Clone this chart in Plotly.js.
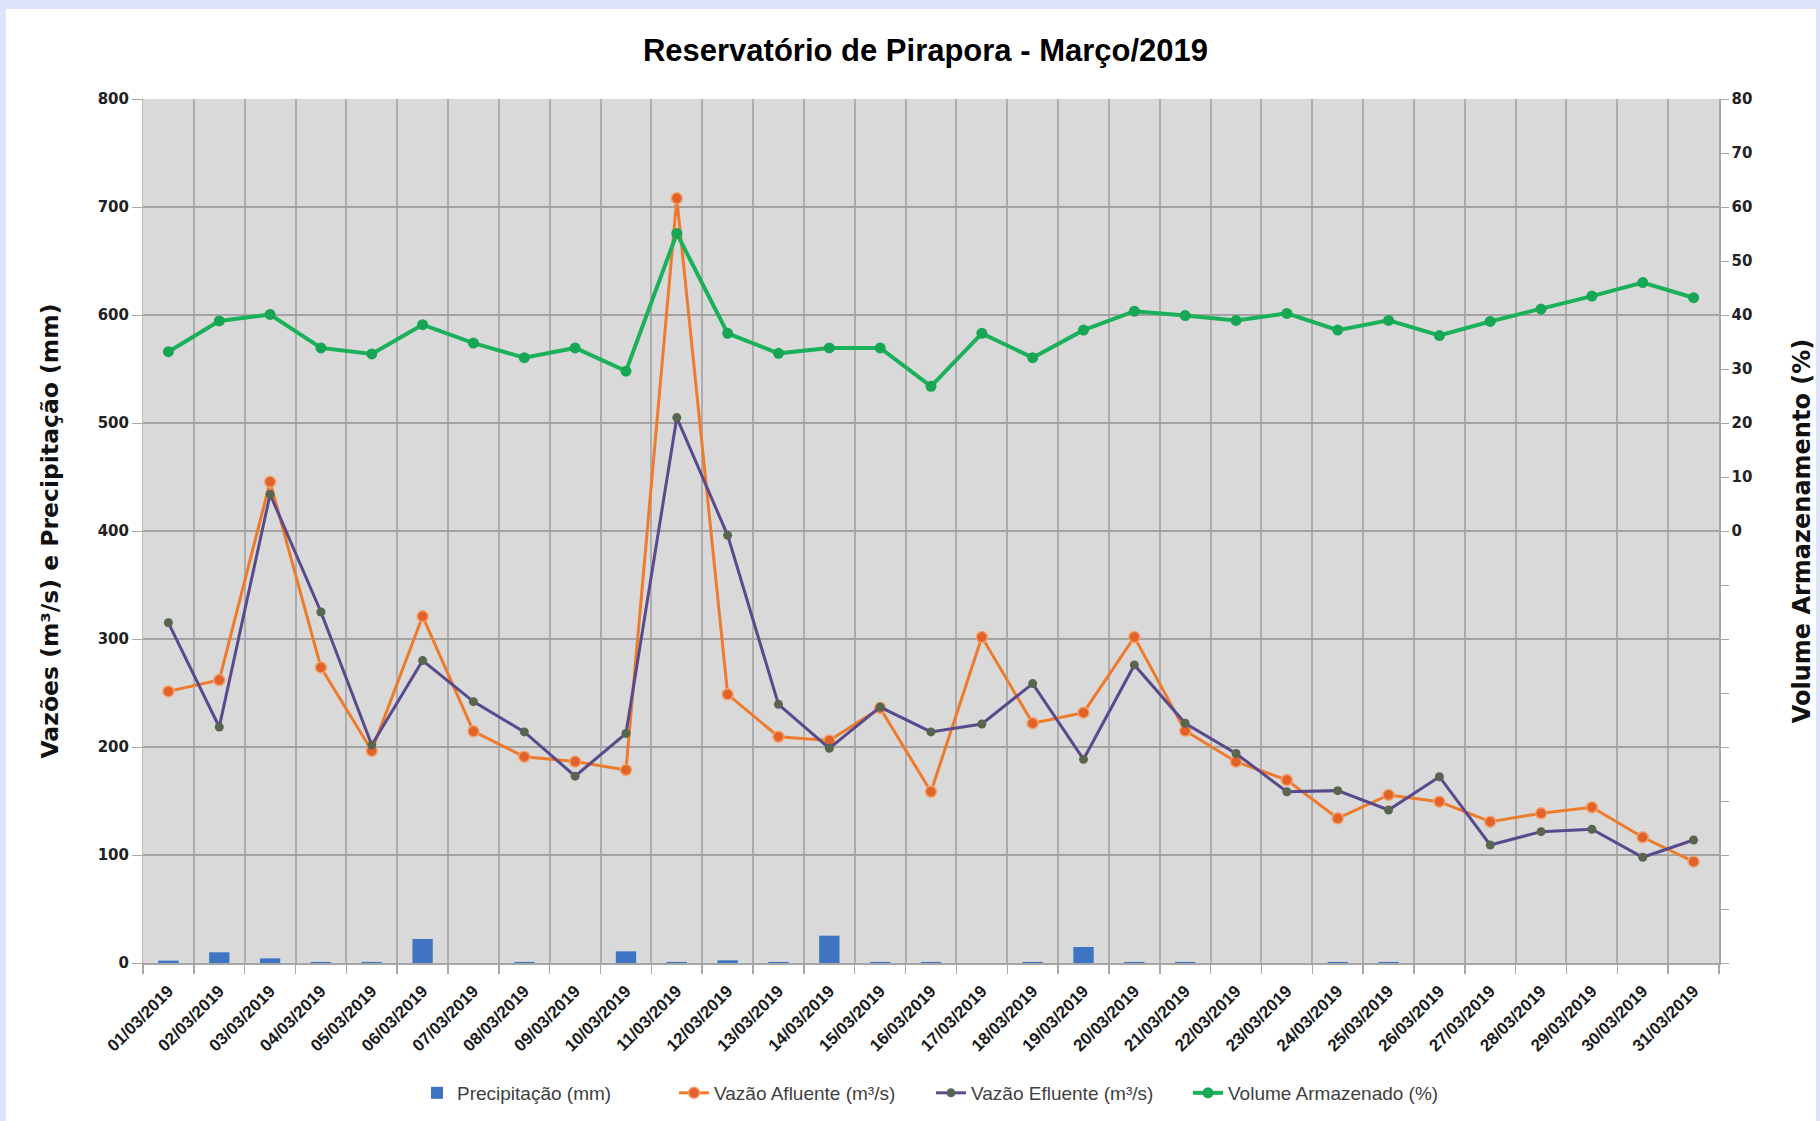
<!DOCTYPE html>
<html>
<head>
<meta charset="utf-8">
<script src="https://cdn.plot.ly/plotly-3.0.1.min.js"></script>
<style>
  html, body { margin: 0; padding: 0; background: #dde3fb; }
  #chart { position: absolute; left: 6px; top: 9px; width: 1810px; height: 1112px; background: #fff; }
</style>
</head>
<body>
<div id="chart"></div>
<script>
var dias = ["01/03/2019","02/03/2019","03/03/2019","04/03/2019","05/03/2019","06/03/2019","07/03/2019",
            "08/03/2019","09/03/2019","10/03/2019","11/03/2019","12/03/2019","13/03/2019","14/03/2019",
            "15/03/2019","16/03/2019","17/03/2019","18/03/2019","19/03/2019","20/03/2019","21/03/2019",
            "22/03/2019","23/03/2019","24/03/2019","25/03/2019","26/03/2019","27/03/2019","28/03/2019",
            "29/03/2019","30/03/2019","31/03/2019"];

var precipitacao = [2.2, 9.9, 4.3, 1, 1, 22.2, 0, 1, 0, 10.8, 1, 2.5, 1, 25.3, 1, 1,
                    0, 1, 14.8, 1, 1, 0, 0, 1, 1, 0, 0, 0, 0, 0, 0];

var vazaoAfluente = [251.5, 262, 445.5, 273.6, 196.5, 321, 214.5, 191, 186.5, 178.7, 708, 248.8,
                     209.5, 206, 236, 158.6, 301.8, 222, 231.8, 301.8, 215, 186.4, 169.4, 134,
                     155.6, 149.4, 130.8, 138.6, 144.2, 116.4, 93.8];

var vazaoEfluente = [315, 218.5, 434, 325, 201.8, 280, 242, 214, 173, 212.6, 505, 396,
                     239.5, 198.8, 237, 214, 221.3, 258.7, 188.6, 276, 222, 194, 158.6, 159.6,
                     141.7, 172.5, 109.3, 121.6, 123.8, 97.9, 113.9];

var volume = [33.2, 38.9, 40.1, 33.9, 32.8, 38.2, 34.8, 32.1, 33.9, 29.6, 55.1, 36.6,
              32.9, 33.9, 33.9, 26.8, 36.6, 32.1, 37.2, 40.7, 39.9, 39.0, 40.3, 37.2,
              39.0, 36.2, 38.8, 41.1, 43.5, 46.0, 43.2];

// right axis ticks: -80..80 every 10, only 0..80 labelled
var y2Ticks = [-80,-70,-60,-50,-40,-30,-20,-10,0,10,20,30,40,50,60,70,80];
var y2Text = y2Ticks.map(function (v) { return v < 0 ? "" : String(v); });

var sans = "Liberation Sans, Arial, sans-serif";
var wide = "DejaVu Sans, Verdana, sans-serif";

var data = [
  {
    x: dias, y: precipitacao, name: "Precipitação (mm)", type: "bar",
    width: 0.4, marker: {color: "#3f74c2"}
  },
  {
    x: dias, y: vazaoAfluente, name: "Vazão Afluente (m³/s)", type: "scatter", mode: "lines+markers",
    line: {color: "#ee7b2c", width: 3},
    marker: {color: "#e2622a", size: 11, line: {color: "#f4a26c", width: 1.5}}
  },
  {
    x: dias, y: vazaoEfluente, name: "Vazão Efluente (m³/s)", type: "scatter", mode: "lines+markers",
    line: {color: "#584a8c", width: 3},
    marker: {color: "#58664f", size: 9}
  },
  {
    x: dias, y: volume, name: "Volume Armazenado (%)", type: "scatter", mode: "lines+markers",
    yaxis: "y2",
    line: {color: "#1bb05a", width: 4},
    marker: {color: "#17a653", size: 11}
  }
];

var layout = {
  width: 1810, height: 1112,
  margin: {l: 137, r: 97, t: 90, b: 158},
  paper_bgcolor: "#ffffff",
  plot_bgcolor: "#d9d9d9",
  title: {
    text: "Reservatório de Pirapora - Março/2019",
    font: {family: sans, size: 31, weight: "bold", color: "#000"},
    xref: "container", x: 0.508, xanchor: "center",
    yref: "container", y: 0.963, yanchor: "middle"
  },
  xaxis: {
    type: "category",
    range: [-0.5, 30.5],
    automargin: false,
    tickson: "boundaries",
    ticks: "outside", ticklen: 9, tickcolor: "#a6a6a6", tickwidth: 1.5,
    ticklabelstandoff: 10,
    showgrid: true, gridcolor: "#adadad", gridwidth: 2,
    showline: true, linecolor: "#a6a6a6", linewidth: 1.5,
    tickangle: -45,
    tickfont: {family: sans, size: 17, weight: "bold", color: "#1a1a1a"}
  },
  yaxis: {
    range: [0, 800], dtick: 100,
    automargin: false,
    ticks: "outside", ticklen: 10, tickcolor: "#a6a6a6",
    showgrid: true, gridcolor: "#a3a3a3", gridwidth: 2,
    zeroline: false,
    showline: true, linecolor: "#bdbdbd",
    tickfont: {family: wide, size: 15, weight: "bold", color: "#222"},
    title: {text: "Vazões (m³/s) e Precipitação (mm)", standoff: 32,
            font: {family: wide, size: 23.5, weight: "bold", color: "#111"}}
  },
  yaxis2: {
    overlaying: "y", side: "right",
    range: [-80, 80],
    automargin: false,
    tickmode: "array", tickvals: y2Ticks, ticktext: y2Text,
    ticks: "outside", ticklen: 8, tickcolor: "#a6a6a6",
    showgrid: false, zeroline: false,
    showline: true, linecolor: "#a6a6a6", linewidth: 1.5,
    tickfont: {family: wide, size: 15, weight: "bold", color: "#222"},
    title: {text: "Volume Armazenamento (%)", standoff: 54,
            font: {family: wide, size: 24, weight: "bold", color: "#111"}}
  },
  showlegend: true,
  legend: {
    orientation: "h",
    xref: "paper", x: 0.5, xanchor: "center",
    yref: "container", y: 0.0252, yanchor: "middle",
    font: {family: sans, size: 19, color: "#404040"},
    entrywidth: 212,
    traceorder: "normal"
  },
  bargap: 0.6
};

Plotly.newPlot("chart", data, layout, {displayModeBar: false, staticPlot: true});
</script>
</body>
</html>
